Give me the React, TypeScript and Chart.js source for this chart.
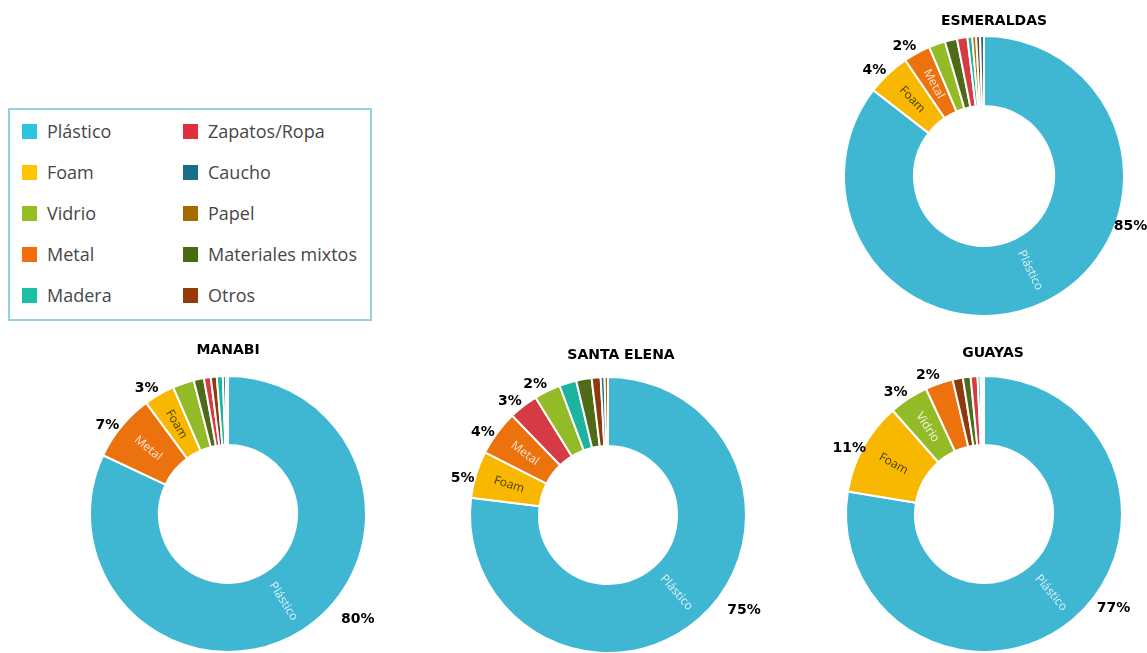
import React, { useEffect, useRef } from "react";
import { Chart, registerables } from "chart.js";

Chart.register(...registerables);

// ---------- DATA ----------
const legendCategories = [
  "Plástico", "Foam", "Vidrio", "Metal", "Madera",
  "Zapatos/Ropa", "Caucho", "Papel", "Materiales mixtos", "Otros",
];
const legendSwatches = [
  "#2EC3DF", "#FFC400", "#93C020", "#F26E0C", "#19BFA6",
  "#DF2F3B", "#186F88", "#A46B00", "#4B6913", "#963A08",
];
const sliceColors: Record<string, string> = {
  "Plástico": "#40B7D2",
  "Foam": "#F8B701",
  "Vidrio": "#92BB27",
  "Metal": "#EC720E",
  "Madera": "#1CB49F",
  "Zapatos/Ropa": "#D63A45",
  "Caucho": "#1F6E88",
  "Papel": "#A67200",
  "Materiales mixtos": "#4F6B18",
  "Otros": "#8D3B0C",
};
const innerTextColors: Record<string, string> = {
  "Plástico": "#DDF2F7",
  "Foam": "#4E3D00",
  "Metal": "#FCE4D2",
  "Vidrio": "#EEF5DC",
};

const esmeraldasLabels = ["Plástico", "Foam", "Metal", "Vidrio", "Materiales mixtos", "Zapatos/Ropa", "Madera", "Papel", "Otros", "Caucho"];
const esmeraldasValues = [85.5, 5.0, 3.1, 1.9, 1.4, 1.2, 0.55, 0.45, 0.45, 0.45];
const esmeraldasPct = ["85%", "4%", "2%", "", "", "", "", "", "", ""];
const esmeraldasInner = ["Plástico", "Foam", "Metal"];

const manabiLabels = ["Plástico", "Metal", "Foam", "Vidrio", "Materiales mixtos", "Zapatos/Ropa", "Otros", "Madera", "Caucho", "Papel"];
const manabiValues = [82, 7.9, 3.6, 2.5, 1.2, 0.8, 0.7, 0.7, 0.35, 0.25];
const manabiPct = ["80%", "7%", "3%", "", "", "", "", "", "", ""];
const manabiInner = ["Plástico", "Metal", "Foam"];

const santaElenaLabels = ["Plástico", "Foam", "Metal", "Zapatos/Ropa", "Vidrio", "Madera", "Materiales mixtos", "Otros", "Caucho", "Papel"];
const santaElenaValues = [77, 5.5, 5.3, 3.4, 3.1, 2, 1.8, 1.05, 0.45, 0.4];
const santaElenaPct = ["75%", "5%", "4%", "3%", "2%", "", "", "", "", ""];
const santaElenaInner = ["Plástico", "Foam", "Metal"];

const guayasLabels = ["Plástico", "Foam", "Vidrio", "Metal", "Otros", "Materiales mixtos", "Zapatos/Ropa", "Madera", "Papel", "Caucho"];
const guayasValues = [77.6, 10.9, 4.6, 3.25, 1.2, 0.9, 0.8, 0.35, 0.25, 0.15];
const guayasPct = ["77%", "11%", "3%", "2%", "", "", "", "", "", ""];
const guayasInner = ["Plástico", "Foam", "Vidrio"];

// ---------- LAYOUT ----------
const BORDER = 2;
const PAD = 52;

const donutLabelsPlugin = {
  id: "donutLabels",
  afterDatasetsDraw(chart: any, _args: any, opts: any) {
    const { ctx } = chart;
    const meta = chart.getDatasetMeta(0);
    const labels = chart.data.labels as string[];
    let cx = 0, cy = 0;
    meta.data.forEach((arc: any, i: number) => {
      const p = arc.getProps(["x", "y", "startAngle", "endAngle", "innerRadius", "outerRadius"], true);
      cx = p.x; cy = p.y;
      const mid = (p.startAngle + p.endAngle) / 2;
      const name = labels[i];
      if (opts.inner && opts.inner.includes(name)) {
        const r = (p.innerRadius + p.outerRadius) / 2;
        const px = p.x + Math.cos(mid) * r;
        const py = p.y + Math.sin(mid) * r;
        let rot = mid;
        while (rot > Math.PI) rot -= 2 * Math.PI;
        while (rot < -Math.PI) rot += 2 * Math.PI;
        if (rot > Math.PI / 2 || rot < -Math.PI / 2) rot += Math.PI;
        ctx.save();
        ctx.translate(px, py);
        ctx.rotate(rot);
        ctx.font = '12px "Open Sans", sans-serif';
        ctx.fillStyle = innerTextColors[name] || "#ffffff";
        ctx.textAlign = "center";
        ctx.textBaseline = "middle";
        ctx.fillText(name, 0, 0);
        ctx.restore();
      }
      const pct = opts.pct ? opts.pct[i] : "";
      if (pct) {
        let ang: number, r: number;
        if (i === 0) {
          ang = (opts.mainAngle * Math.PI) / 180;
          r = opts.mainRadius;
        } else {
          ang = mid - (3 * Math.PI) / 180;
          r = p.outerRadius + 12;
        }
        ctx.save();
        ctx.font = 'bold 14px "DejaVu Sans", sans-serif';
        ctx.fillStyle = "#000";
        ctx.textAlign = "center";
        ctx.textBaseline = "middle";
        ctx.fillText(pct, p.x + Math.cos(ang) * r, p.y + Math.sin(ang) * r);
        ctx.restore();
      }
    });
    if (opts.title) {
      ctx.save();
      ctx.font = 'bold 14px "DejaVu Sans", sans-serif';
      ctx.fillStyle = "#000";
      ctx.textAlign = "center";
      ctx.textBaseline = "middle";
      ctx.fillText(opts.title, cx + opts.titleDx, cy + opts.titleDy);
      ctx.restore();
    }
  },
};

type DonutProps = {
  title: string;
  labels: string[];
  values: number[];
  pct: string[];
  inner: string[];
  cx: number;
  cy: number;
  radius: number;
  mainAngle: number;
  mainRadius: number;
  titleDx: number;
  titleDy: number;
};

function Donut(props: DonutProps) {
  const ref = useRef<HTMLCanvasElement | null>(null);
  const side = 2 * props.radius + BORDER + 2 * PAD;
  useEffect(() => {
    if (!ref.current) return;
    const chart = new Chart(ref.current, {
      type: "doughnut",
      data: {
        labels: props.labels,
        datasets: [
          {
            data: props.values,
            backgroundColor: props.labels.map((l) => sliceColors[l]),
            borderColor: "#ffffff",
            borderWidth: BORDER,
            hoverBorderWidth: BORDER,
            hoverOffset: 0,
            offset: 0,
          },
        ],
      },
      options: {
        responsive: false,
        animation: false,
        events: [],
        cutout: "50%",
        rotation: 0,
        layout: { padding: PAD },
        plugins: {
          legend: { display: false },
          tooltip: { enabled: false },
          title: { display: false },
          donutLabels: {
            pct: props.pct,
            inner: props.inner,
            mainAngle: props.mainAngle,
            mainRadius: props.mainRadius,
            title: props.title,
            titleDx: props.titleDx,
            titleDy: props.titleDy,
          },
        } as any,
      },
      plugins: [donutLabelsPlugin],
    });
    return () => chart.destroy();
  }, []);
  const half = props.radius + BORDER / 2 + PAD;
  return (
    <canvas
      ref={ref}
      width={side}
      height={side}
      style={{
        position: "absolute",
        left: props.cx - half,
        top: props.cy - half,
        width: side,
        height: side,
      }}
    />
  );
}

function Legend() {
  const rows = 5;
  return (
    <div
      style={{
        position: "absolute",
        left: 8,
        top: 108,
        width: 360,
        height: 209,
        border: "2px solid #8FD3E0",
        background: "#fff",
      }}
    >
      {legendCategories.map((c, i) => {
        const col = Math.floor(i / rows);
        const row = i % rows;
        const top = 21 + row * 41;
        const left = col === 0 ? 12 : 173;
        return (
          <div key={c} style={{ position: "absolute", left, top: top - 12, height: 24, display: "flex", alignItems: "center" }}>
            <div style={{ width: 15, height: 15, background: legendSwatches[i], marginRight: 10 }} />
            <span style={{ font: '18px "Open Sans", sans-serif', color: "#474747", whiteSpace: "nowrap" }}>{c}</span>
          </div>
        );
      })}
    </div>
  );
}

export default function App() {
  return (
    <div
      style={{
        position: "absolute",
        left: 0,
        top: 0,
        width: 1147,
        height: 653,
        overflow: "hidden",
        background: "#fff",
      }}
    >
      <Legend />
      <Donut title="ESMERALDAS" labels={esmeraldasLabels} values={esmeraldasValues} pct={esmeraldasPct} inner={esmeraldasInner}
        cx={984} cy={176} radius={140} mainAngle={19} mainRadius={155} titleDx={10} titleDy={-155} />
      <Donut title="MANABI" labels={manabiLabels} values={manabiValues} pct={manabiPct} inner={manabiInner}
        cx={228} cy={514} radius={138} mainAngle={39} mainRadius={167} titleDx={0} titleDy={-164} />
      <Donut title="SANTA ELENA" labels={santaElenaLabels} values={santaElenaValues} pct={santaElenaPct} inner={santaElenaInner}
        cx={608} cy={515} radius={138} mainAngle={35} mainRadius={166} titleDx={13} titleDy={-160} />
      <Donut title="GUAYAS" labels={guayasLabels} values={guayasValues} pct={guayasPct} inner={guayasInner}
        cx={984} cy={514} radius={138} mainAngle={36} mainRadius={160} titleDx={9} titleDy={-161} />
    </div>
  );
}
